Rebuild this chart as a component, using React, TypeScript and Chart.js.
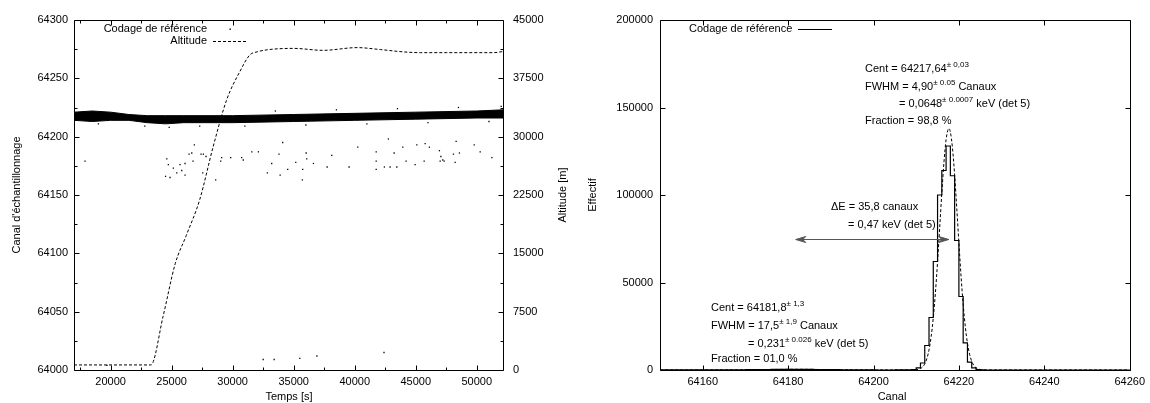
import React, { useEffect, useRef } from 'react';
import { Chart, registerables } from 'chart.js';

Chart.register(...registerables);

const FONT = "'Liberation Sans', Arial, Helvetica, sans-serif";

// ---------- Left panel: Canal vs Temps, Altitude ----------
const timeRange = [17000, 52150];
const canalRange = [64000, 64300];
const altRange = [0, 45000];
const timeTicks = [20000, 25000, 30000, 35000, 40000, 45000, 50000];
const timeMinorTicks = [17500, 22500, 27500, 32500, 37500, 42500, 47500];
const canalTicks = [64000, 64050, 64100, 64150, 64200, 64250, 64300];
const canalMinorTicks = [64025, 64075, 64125, 64175, 64225, 64275];
const altTicks = [0, 7500, 15000, 22500, 30000, 37500, 45000];
const altMinorTicks = [3750, 11250, 18750, 26250, 33750, 41250];

// dense band of "Codage de référence" samples (upper / lower envelope)
const bandTimes = [17000, 18500, 20000, 21500, 23000, 24500, 26000, 30000, 35000, 40000, 45000, 50000, 52150];
const bandTop = [64221, 64222, 64221, 64219, 64218, 64218, 64218, 64218, 64219, 64220, 64221, 64222, 64223];
const bandBottom = [64214, 64213, 64214, 64214, 64212, 64211, 64212, 64212, 64213, 64214, 64215, 64216, 64216];

// isolated samples
const sampleTimes = [
  17900, 24500, 24600, 24730, 24870, 25140, 25420, 25690, 25830, 26100, 26100, 26430, 26650, 26750, 26860,
  27410, 27600, 27820, 27550, 28610, 29100, 29020, 29840, 30740, 30870, 31570, 32110, 33200, 32840, 33800,
  34100, 33890, 34510, 35170, 35740, 35710, 36020, 36070, 36620, 37740, 38120, 39540, 40250, 41760, 41760,
  41760, 42430, 42760, 42900, 43230, 43450, 43940, 44210, 44950, 45090, 45690, 45770, 46120, 46940, 47060,
  47000, 47330, 47220, 48090, 48230, 48310, 48580, 49790, 50280, 51240,
  19700, 32500, 33400, 35500, 36900, 42400,
  19000, 22800, 24800, 27300, 31000, 36000, 41000, 46000, 51000, 33500, 38500, 43500, 48500, 52000,
];
const sampleCanal = [
  64179, 64166, 64181, 64176, 64165, 64173, 64169, 64176, 64171, 64177, 64167, 64185, 64186, 64179, 64193,
  64185, 64185, 64183, 64169, 64163, 64182, 64179, 64182, 64182, 64180, 64187, 64187, 64177, 64169, 64185,
  64195, 64167, 64172, 64178, 64172, 64163, 64186, 64181, 64177, 64174, 64184, 64174, 64191, 64187, 64179,
  64172, 64174, 64198, 64174, 64186, 64174, 64191, 64179, 64176, 64193, 64179, 64194, 64191, 64188, 64183,
  64179, 64179, 64180, 64185, 64178, 64196, 64186, 64193, 64187, 64182,
  64004, 64009, 64009, 64010, 64012, 64015,
  64211, 64209, 64208, 64209, 64209, 64210, 64211, 64212, 64213, 64222, 64223, 64224, 64225, 64226,
];

// balloon altitude [m]
const altTimes = [17000, 23300, 24300, 25300, 26200, 27300, 28400, 29500, 30600, 31400, 32000, 33000, 35000, 37400, 40200, 42100, 44000, 45400, 47500, 51400, 52150];
const altValues = [650, 650, 6900, 13700, 17300, 21900, 28700, 34700, 38400, 40500, 40900, 41200, 41350, 41100, 41450, 41200, 40900, 40800, 40800, 40800, 40950];

// ---------- Right panel: histogram ----------
const channelRange = [64150, 64260];
const countRange = [0, 200000];
const channelTicks = [64160, 64180, 64200, 64220, 64240, 64260];
const countTicks = [0, 50000, 100000, 150000, 200000];

const histChannels = [
  64150, 64160, 64165, 64168, 64170, 64172, 64174, 64176, 64178, 64180, 64182, 64184, 64186, 64188, 64190,
  64192, 64194, 64196, 64198, 64200, 64205, 64208, 64209, 64210, 64211, 64212, 64213, 64214, 64215, 64216,
  64217, 64218, 64219, 64220, 64221, 64222, 64223, 64224, 64225, 64226, 64227, 64230, 64260,
];
const histCounts = [
  0, 20, 60, 100, 150, 220, 260, 300, 340, 380, 390, 370, 340, 300, 240,
  180, 130, 90, 60, 40, 10, 30, 100, 300, 1200, 4000, 14000, 30000, 62000, 100000,
  114000, 128000, 111000, 74000, 42000, 15500, 4500, 1200, 300, 80, 10, 0, 0,
];

// fitted curve (two gaussians)
const fitChannels = [
  64150, 64160, 64165, 64170, 64175, 64180, 64182, 64185, 64190, 64195, 64200, 64205, 64208, 64210, 64211,
  64211.5, 64212, 64212.5, 64213, 64213.5, 64214, 64214.5, 64215, 64215.5, 64216, 64216.5, 64217, 64217.5,
  64217.64, 64218, 64218.5, 64219, 64219.5, 64220, 64220.5, 64221, 64221.5, 64222, 64222.5, 64223, 64223.5,
  64224, 64225, 64226, 64228, 64260,
];
const fitCounts = [
  0, 5, 30, 110, 256, 379, 390, 355, 212, 80, 19, 3, 1, 163, 850,
  1776, 3504, 6535, 11490, 19070, 29890, 44220, 61710, 81340, 101170, 118760, 131620, 137690,
  138000, 135950, 126710, 111460, 92560, 72550, 53670, 37480, 24700, 15370, 9030, 5000, 2620,
  1290, 265, 40, 1, 0,
];

// ΔE arrow between the two fitted centres
const arrowFrom = 64181.8;
const arrowTo = 64217.64;
const arrowLevel = 75000;

type Part = [string, boolean];

function drawRich(ctx: CanvasRenderingContext2D, x: number, y: number, parts: Part[], align = 'left') {
  const mainF = `11px ${FONT}`;
  const supF = `8px ${FONT}`;
  let w = 0;
  for (const [t, s] of parts) {
    ctx.font = s ? supF : mainF;
    w += ctx.measureText(t).width;
  }
  let cx = align === 'right' ? x - w : align === 'center' ? x - w / 2 : x;
  ctx.textBaseline = 'middle';
  ctx.textAlign = 'left';
  ctx.fillStyle = '#000';
  for (const [t, s] of parts) {
    ctx.font = s ? supF : mainF;
    ctx.fillText(t, cx, s ? y - 4 : y);
    cx += ctx.measureText(t).width;
  }
}

function drawRotated(ctx: CanvasRenderingContext2D, x: number, y: number, text: string) {
  ctx.save();
  ctx.translate(x, y);
  ctx.rotate(-Math.PI / 2);
  ctx.font = `11px ${FONT}`;
  ctx.fillStyle = '#000';
  ctx.textAlign = 'center';
  ctx.textBaseline = 'middle';
  ctx.fillText(text, 0, 0);
  ctx.restore();
}

type TickSpec = { major: number[]; minor: number[]; mirror: boolean };

function drawFrameTicks(chart: any, xs: TickSpec, ys: TickSpec, y2?: TickSpec) {
  const { ctx, chartArea: a } = chart;
  const L = Math.round(a.left) + 0.5;
  const R = Math.round(a.right) + 0.5;
  const T = Math.round(a.top) + 0.5;
  const B = Math.round(a.bottom) + 0.5;
  ctx.save();
  ctx.strokeStyle = '#000';
  ctx.lineWidth = 1;
  ctx.setLineDash([]);
  ctx.beginPath();
  ctx.rect(L, T, R - L, B - T);
  const xScale = chart.scales.x;
  const yScale = chart.scales.y;
  const xt = (vals: number[], len: number, mirror: boolean) => {
    for (const v of vals) {
      const p = Math.round(xScale.getPixelForValue(v)) + 0.5;
      ctx.moveTo(p, B);
      ctx.lineTo(p, B - len);
      if (mirror) {
        ctx.moveTo(p, T);
        ctx.lineTo(p, T + len);
      }
    }
  };
  const yt = (scale: any, vals: number[], len: number, left: boolean, right: boolean) => {
    for (const v of vals) {
      const p = Math.round(scale.getPixelForValue(v)) + 0.5;
      if (left) {
        ctx.moveTo(L, p);
        ctx.lineTo(L + len, p);
      }
      if (right) {
        ctx.moveTo(R, p);
        ctx.lineTo(R - len, p);
      }
    }
  };
  xt(xs.major, 5, xs.mirror);
  xt(xs.minor, 3, xs.mirror);
  yt(yScale, ys.major, 5, true, ys.mirror);
  yt(yScale, ys.minor, 3, true, ys.mirror);
  if (y2) {
    const s2 = chart.scales.y2;
    yt(s2, y2.major, 5, false, true);
    yt(s2, y2.minor, 3, false, true);
  }
  ctx.stroke();
  ctx.restore();
}

const tickFont = { family: FONT, size: 11 };

function LeftChart() {
  const ref = useRef<HTMLCanvasElement>(null);
  useEffect(() => {
    const band = (vals: number[]) => bandTimes.map((t, i) => ({ x: t, y: vals[i] }));
    const plugin = {
      id: 'leftDecor',
      afterDraw(chart: any) {
        drawFrameTicks(
          chart,
          { major: timeTicks, minor: timeMinorTicks, mirror: true },
          { major: canalTicks, minor: canalMinorTicks, mirror: false },
          { major: altTicks, minor: altMinorTicks, mirror: false },
        );
        const ctx = chart.ctx as CanvasRenderingContext2D;
        ctx.save();
        drawRich(ctx, 207, 29, [['Codage de référence', false]], 'right');
        drawRich(ctx, 207, 41, [['Altitude', false]], 'right');
        ctx.fillStyle = '#000';
        ctx.fillRect(229.5, 28.5, 1.4, 1.4);
        ctx.strokeStyle = '#000';
        ctx.lineWidth = 1;
        ctx.setLineDash([3, 2]);
        ctx.beginPath();
        ctx.moveTo(213, 41.5);
        ctx.lineTo(246, 41.5);
        ctx.stroke();
        ctx.setLineDash([]);
        drawRotated(ctx, 17, 195, "Canal d'échantillonnage");
        drawRotated(ctx, 563, 195, 'Altitude [m]');
        drawRich(ctx, 289, 397, [['Temps [s]', false]], 'center');
        ctx.restore();
      },
    };
    const chart = new Chart(ref.current as HTMLCanvasElement, {
      type: 'line',
      data: {
        datasets: [
          {
            label: 'bandTop',
            data: band(bandTop),
            yAxisID: 'y',
            borderColor: '#000',
            backgroundColor: '#000',
            borderWidth: 1,
            pointRadius: 0,
            fill: '+1',
          },
          {
            label: 'bandBottom',
            data: band(bandBottom),
            yAxisID: 'y',
            borderColor: '#000',
            borderWidth: 1,
            pointRadius: 0,
            fill: false,
          },
          {
            label: 'Codage de référence',
            data: sampleTimes.map((t, i) => ({ x: t, y: sampleCanal[i] })),
            yAxisID: 'y',
            showLine: false,
            pointStyle: 'rect',
            pointRadius: 0.9,
            pointBorderWidth: 0,
            pointBackgroundColor: '#000',
            borderColor: '#000',
          },
          {
            label: 'Altitude',
            data: altTimes.map((t, i) => ({ x: t, y: altValues[i] })),
            yAxisID: 'y2',
            borderColor: '#000',
            borderWidth: 1,
            borderDash: [3, 2],
            pointRadius: 0,
            fill: false,
            cubicInterpolationMode: 'monotone',
          },
        ],
      } as any,
      options: {
        animation: false,
        responsive: false,
        devicePixelRatio: 1,
        layout: { padding: { top: 20, left: 0, right: 0, bottom: 0 } },
        plugins: { legend: { display: false }, tooltip: { enabled: false } },
        scales: {
          x: {
            type: 'linear',
            min: timeRange[0],
            max: timeRange[1],
            grid: { display: false, drawTicks: false },
            border: { display: false },
            ticks: { font: tickFont, color: '#000', padding: 5, autoSkip: false, maxRotation: 0, callback: (v: any) => String(v) },
            afterBuildTicks: (s: any) => { s.ticks = timeTicks.map((v) => ({ value: v })); },
            afterFit: (s: any) => { s.height = 33; },
          },
          y: {
            type: 'linear',
            position: 'left',
            min: canalRange[0],
            max: canalRange[1],
            grid: { display: false, drawTicks: false },
            border: { display: false },
            ticks: { font: tickFont, color: '#000', padding: 6, autoSkip: false, callback: (v: any) => String(v) },
            afterBuildTicks: (s: any) => { s.ticks = canalTicks.map((v) => ({ value: v })); },
            afterFit: (s: any) => { s.width = 74; },
          },
          y2: {
            type: 'linear',
            position: 'right',
            min: altRange[0],
            max: altRange[1],
            grid: { display: false, drawTicks: false },
            border: { display: false },
            ticks: { font: tickFont, color: '#000', padding: 10, autoSkip: false, callback: (v: any) => String(v) },
            afterBuildTicks: (s: any) => { s.ticks = altTicks.map((v) => ({ value: v })); },
            afterFit: (s: any) => { s.width = 72; },
          },
        },
      } as any,
      plugins: [plugin],
    });
    return () => chart.destroy();
  }, []);
  return <canvas ref={ref} width={575} height={403} style={{ position: 'absolute', left: 0, top: 0 }} />;
}

function RightChart() {
  const ref = useRef<HTMLCanvasElement>(null);
  useEffect(() => {
    const plugin = {
      id: 'rightDecor',
      afterDraw(chart: any) {
        drawFrameTicks(
          chart,
          { major: channelTicks, minor: [], mirror: true },
          { major: countTicks, minor: [], mirror: true },
        );
        const ctx = chart.ctx as CanvasRenderingContext2D;
        const xs = chart.scales.x;
        const ys = chart.scales.y;
        ctx.save();
        // ΔE arrow
        const x1 = xs.getPixelForValue(arrowFrom);
        const x2 = xs.getPixelForValue(arrowTo);
        const yy = Math.round(ys.getPixelForValue(arrowLevel)) + 0.5;
        ctx.strokeStyle = '#555';
        ctx.fillStyle = '#555';
        ctx.lineWidth = 1;
        ctx.beginPath();
        ctx.moveTo(x1, yy);
        ctx.lineTo(x2, yy);
        ctx.stroke();
        const head = (tip: number, dir: number) => {
          ctx.beginPath();
          ctx.moveTo(tip, yy);
          ctx.lineTo(tip + dir * 10, yy - 3);
          ctx.lineTo(tip + dir * 7, yy);
          ctx.lineTo(tip + dir * 10, yy + 3);
          ctx.closePath();
          ctx.fill();
          ctx.stroke();
        };
        head(x1, 1);
        head(x2, -1);
        // legend
        drawRich(ctx, 114, 29, [['Codage de référence', false]]);
        ctx.strokeStyle = '#000';
        ctx.beginPath();
        ctx.moveTo(223, 29.5);
        ctx.lineTo(257, 29.5);
        ctx.stroke();
        // annotations main peak
        drawRich(ctx, 290, 69, [['Cent = 64217,64', false], ['± 0,03', true]]);
        drawRich(ctx, 290, 87, [['FWHM = 4,90', false], ['± 0.05', true], [' Canaux', false]]);
        drawRich(ctx, 324, 104, [['= 0,0648', false], ['± 0.0007', true], [' keV (det 5)', false]]);
        drawRich(ctx, 290, 121, [['Fraction = 98,8 %', false]]);
        // ΔE
        drawRich(ctx, 256, 207, [['ΔE = 35,8 canaux', false]]);
        drawRich(ctx, 273, 225, [['= 0,47 keV (det 5)', false]]);
        // secondary peak
        drawRich(ctx, 136, 308, [['Cent = 64181,8', false], ['± 1,3', true]]);
        drawRich(ctx, 136, 326, [['FWHM = 17,5', false], ['± 1,9', true], [' Canaux', false]]);
        drawRich(ctx, 173, 344, [['= 0,231', false], ['± 0.026', true], [' keV (det 5)', false]]);
        drawRich(ctx, 136, 359, [['Fraction = 01,0 %', false]]);
        // axis titles
        drawRotated(ctx, 18, 195, 'Effectif');
        drawRich(ctx, 317, 397, [['Canal', false]], 'center');
        ctx.restore();
      },
    };
    const chart = new Chart(ref.current as HTMLCanvasElement, {
      type: 'line',
      data: {
        datasets: [
          {
            label: 'Codage de référence',
            data: histChannels.map((c, i) => ({ x: c, y: histCounts[i] })),
            borderColor: '#000',
            borderWidth: 1.2,
            pointRadius: 0,
            stepped: 'after',
            fill: false,
          },
          {
            label: 'fit',
            data: fitChannels.map((c, i) => ({ x: c, y: fitCounts[i] })),
            borderColor: '#000',
            borderWidth: 1,
            borderDash: [3, 2],
            pointRadius: 0,
            fill: false,
            cubicInterpolationMode: 'monotone',
          },
        ],
      } as any,
      options: {
        animation: false,
        responsive: false,
        devicePixelRatio: 1,
        layout: { padding: { top: 20, left: 0, right: 17, bottom: 0 } },
        plugins: { legend: { display: false }, tooltip: { enabled: false } },
        scales: {
          x: {
            type: 'linear',
            min: channelRange[0],
            max: channelRange[1],
            grid: { display: false, drawTicks: false },
            border: { display: false },
            ticks: { font: tickFont, color: '#000', padding: 5, autoSkip: false, maxRotation: 0, callback: (v: any) => String(v) },
            afterBuildTicks: (s: any) => { s.ticks = channelTicks.map((v) => ({ value: v })); },
            afterFit: (s: any) => { s.height = 33; },
          },
          y: {
            type: 'linear',
            position: 'left',
            min: countRange[0],
            max: countRange[1],
            grid: { display: false, drawTicks: false },
            border: { display: false },
            ticks: { font: tickFont, color: '#000', padding: 7, autoSkip: false, callback: (v: any) => String(v) },
            afterBuildTicks: (s: any) => { s.ticks = countTicks.map((v) => ({ value: v })); },
            afterFit: (s: any) => { s.width = 85; },
          },
        },
      } as any,
      plugins: [plugin],
    });
    return () => chart.destroy();
  }, []);
  return <canvas ref={ref} width={575} height={403} style={{ position: 'absolute', left: 575, top: 0 }} />;
}

export default function App() {
  return (
    <div style={{ position: 'absolute', left: 0, top: 0, width: 1150, height: 403, background: '#fff', overflow: 'hidden' }}>
      <LeftChart />
      <RightChart />
    </div>
  );
}
